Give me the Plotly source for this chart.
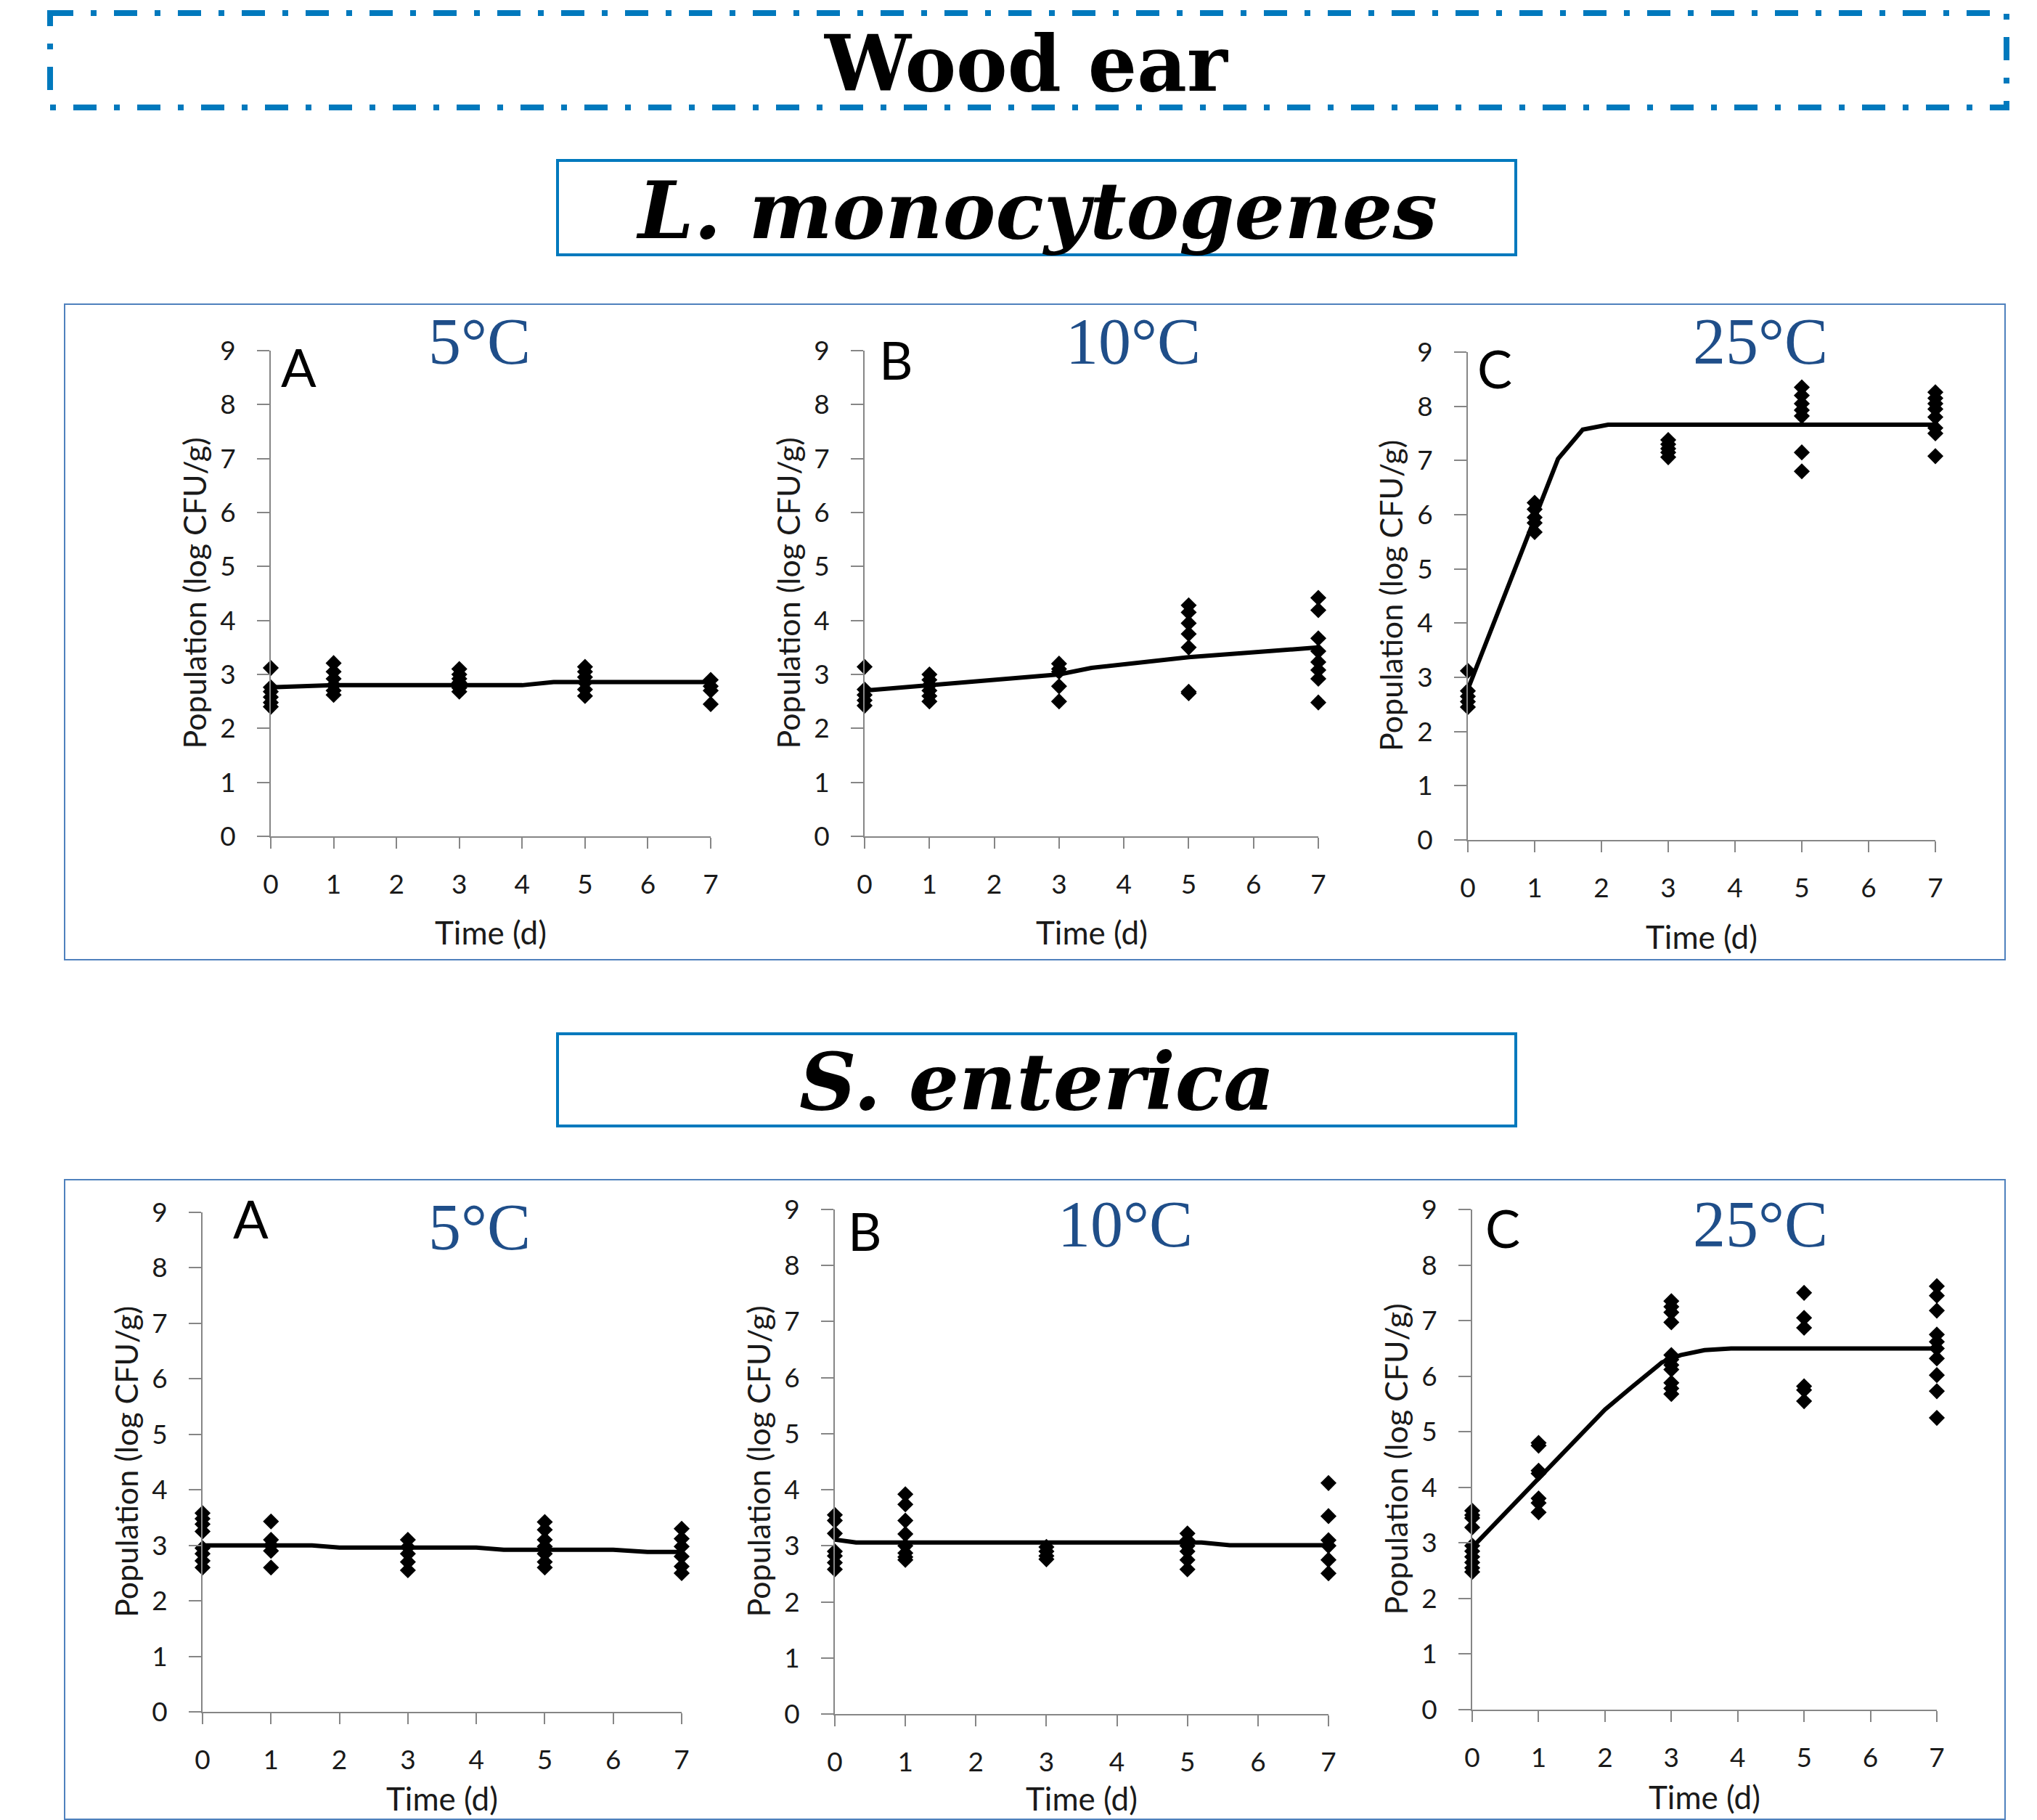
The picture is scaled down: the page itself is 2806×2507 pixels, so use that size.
import plotly.graph_objects as go

W, H = 2806, 2507

# ---------------- data ----------------
DAYS = [0, 1, 3, 5, 7]
X_TICKS = [0, 1, 2, 3, 4, 5, 6, 7]
Y_TICKS = [0, 1, 2, 3, 4, 5, 6, 7, 8, 9]
TEMPS = ["5°C", "10°C", "25°C"]
LETTERS = ["A", "B", "C"]

# L. monocytogenes observations (log CFU/g), one list per sampling day in DAYS
lm_5C_obs = [[3.12, 2.76, 2.68, 2.58, 2.48, 2.40],
             [3.21, 3.05, 2.92, 2.80, 2.70, 2.62],
             [3.10, 3.00, 2.92, 2.85, 2.75, 2.68],
             [3.14, 3.05, 2.95, 2.85, 2.72, 2.60],
             [2.90, 2.78, 2.70, 2.45]]
lm_10C_obs = [[3.14, 2.72, 2.62, 2.52, 2.42],
              [3.00, 2.90, 2.80, 2.70, 2.60, 2.50],
              [3.20, 3.10, 3.05, 2.78, 2.50],
              [4.28, 4.15, 3.95, 3.75, 3.50, 2.68, 2.65],
              [4.42, 4.19, 3.67, 3.43, 3.23, 3.08, 2.92, 2.48]]
lm_25C_obs = [[3.12, 2.75, 2.65, 2.55, 2.45],
              [6.22, 6.10, 5.95, 5.85, 5.68],
              [7.38, 7.30, 7.22, 7.15, 7.06],
              [8.35, 8.20, 8.05, 7.93, 7.82, 7.15, 6.80],
              [8.26, 8.15, 8.05, 7.95, 7.80, 7.60, 7.50, 7.08]]

# S. enterica observations
se_5C_obs = [[3.58, 3.48, 3.38, 3.25, 2.95, 2.85, 2.72, 2.60],
             [3.43, 3.10, 3.00, 2.90, 2.60],
             [3.10, 2.97, 2.85, 2.70, 2.55],
             [3.42, 3.28, 3.10, 2.98, 2.85, 2.70, 2.60],
             [3.30, 3.12, 2.98, 2.80, 2.62, 2.50]]
se_10C_obs = [[3.55, 3.45, 3.22, 2.90, 2.82, 2.70, 2.58],
              [3.92, 3.74, 3.45, 3.21, 3.00, 2.87, 2.80, 2.75],
              [2.98, 2.90, 2.82, 2.76],
              [3.22, 3.10, 3.00, 2.90, 2.75, 2.58],
              [4.12, 3.53, 3.10, 3.00, 2.75, 2.51]]
se_25C_obs = [[3.58, 3.50, 3.45, 3.28, 2.95, 2.85, 2.75, 2.65, 2.55, 2.48],
              [4.80, 4.75, 4.30, 4.25, 3.80, 3.72, 3.55],
              [7.35, 7.25, 7.15, 6.97, 6.38, 6.30, 6.20, 6.12, 5.88, 5.78, 5.68],
              [7.50, 7.05, 6.87, 5.82, 5.75, 5.55],
              [7.62, 7.45, 7.18, 6.75, 6.62, 6.50, 6.32, 6.02, 5.73, 5.25]]

# fitted model curves (time in days, log CFU/g)
lm_5C_fit_t = [0, 1, 4, 4.5, 7]
lm_5C_fit_y = [2.76, 2.80, 2.80, 2.86, 2.86]
lm_10C_fit_t = [0, 1, 3, 3.5, 5, 7]
lm_10C_fit_y = [2.70, 2.80, 3.00, 3.12, 3.32, 3.50]
lm_25C_fit_t = [0, 1.35, 1.72, 2.1, 7]
lm_25C_fit_y = [2.78, 7.03, 7.57, 7.66, 7.66]
se_5C_fit_t = [0, 1.6, 2.0, 4.0, 4.4, 6.0, 6.5, 7]
se_5C_fit_y = [3.00, 3.00, 2.96, 2.96, 2.92, 2.92, 2.88, 2.88]
se_10C_fit_t = [0, 0.3, 5.2, 5.6, 7]
se_10C_fit_y = [3.11, 3.06, 3.06, 3.01, 3.01]
se_25C_fit_t = [0, 1, 2, 2.4, 2.86, 3.14, 3.5, 3.9, 7]
se_25C_fit_y = [2.92, 4.15, 5.40, 5.80, 6.25, 6.38, 6.47, 6.50, 6.50]

# ---------------- layout geometry (pixels) ----------------
# x0, x7 : pixel x of day 0 / day 7 ; y0, y9 : pixel y of value 0 / 9
panels = [
    dict(obs=lm_5C_obs, ft=lm_5C_fit_t, fy=lm_5C_fit_y, x0=373, x7=979, y0=1152, y9=483,
         letter=(411, 505), temp=(660, 470), ttl_y=1284),
    dict(obs=lm_10C_obs, ft=lm_10C_fit_t, fy=lm_10C_fit_y, x0=1191, x7=1816, y0=1152, y9=483,
         letter=(1234, 495), temp=(1561, 470), ttl_y=1284),
    dict(obs=lm_25C_obs, ft=lm_25C_fit_t, fy=lm_25C_fit_y, x0=2022, x7=2666, y0=1157, y9=485,
         letter=(2059, 507), temp=(2425, 470), ttl_y=1290),
    dict(obs=se_5C_obs, ft=se_5C_fit_t, fy=se_5C_fit_y, x0=279, x7=939, y0=2358, y9=1670,
         letter=(345, 1678), temp=(660, 1690), ttl_y=2477),
    dict(obs=se_10C_obs, ft=se_10C_fit_t, fy=se_10C_fit_y, x0=1150, x7=1830, y0=2361, y9=1666,
         letter=(1191, 1695), temp=(1550, 1686), ttl_y=2477),
    dict(obs=se_25C_obs, ft=se_25C_fit_t, fy=se_25C_fit_y, x0=2028, x7=2668, y0=2355, y9=1666,
         letter=(2070, 1691), temp=(2425, 1686), ttl_y=2475),
]


def px(x):
    return x / W


def py(y):
    return 1 - y / H


SANS = "Lato"
SERIF_HDR = "DejaVu Serif"
SERIF_T = "Liberation Serif"
AXIS_COL = "#868686"
TEMP_COL = "#1F4E89"
BOX_COL = "#0079BD"
FRAME_COL = "#4F81BD"
TXT_COL = "#1a1a1a"

fig = go.Figure()
layout = dict(width=W, height=H, autosize=False,
              margin=dict(l=0, r=0, t=0, b=0, pad=0, autoexpand=False),
              paper_bgcolor="white", plot_bgcolor="rgba(0,0,0,0)",
              showlegend=False)
annotations = []
shapes = []

for i, p in enumerate(panels):
    k = "" if i == 0 else str(i + 1)
    xs, ys = [], []
    for d, vals in zip(DAYS, p["obs"]):
        xs += [d] * len(vals)
        ys += vals
    fig.add_trace(go.Scatter(x=p["ft"], y=p["fy"], mode="lines",
                             line=dict(color="black", width=6),
                             xaxis="x" + k, yaxis="y" + k, cliponaxis=False))
    fig.add_trace(go.Scatter(x=xs, y=ys, mode="markers",
                             marker=dict(symbol="diamond", size=17, color="black"),
                             xaxis="x" + k, yaxis="y" + k, cliponaxis=False))
    layout["xaxis" + k] = dict(domain=[px(p["x0"]), px(p["x7"])], range=[0, 7],
                               anchor="y" + k, tickvals=X_TICKS, automargin=False,
                               showline=True, linecolor=AXIS_COL, linewidth=2,
                               ticks="outside", ticklen=15, tickwidth=2, tickcolor=AXIS_COL,
                               showgrid=False, zeroline=False, ticklabelstandoff=18,
                               tickfont=dict(family=SANS, size=37, color=TXT_COL))
    layout["yaxis" + k] = dict(domain=[py(p["y0"]), py(p["y9"])], range=[0, 9],
                               anchor="x" + k, tickvals=Y_TICKS, automargin=False,
                               showline=True, linecolor=AXIS_COL, linewidth=2,
                               ticks="outside", ticklen=17, tickwidth=2, tickcolor=AXIS_COL,
                               showgrid=False, zeroline=False, ticklabelstandoff=22,
                               tickfont=dict(family=SANS, size=37, color=TXT_COL))
    # axis titles
    annotations.append(dict(text="Population (log CFU/g)", textangle=-90,
                            x=px(p["x0"] - 106), y=py((p["y0"] + p["y9"]) / 2),
                            xref="paper", yref="paper", showarrow=False,
                            xanchor="center", yanchor="middle",
                            font=dict(family=SANS, size=43, color=TXT_COL)))
    annotations.append(dict(text="Time (d)",
                            x=px((p["x0"] + p["x7"]) / 2), y=py(p["ttl_y"]),
                            xref="paper", yref="paper", showarrow=False,
                            xanchor="center", yanchor="middle",
                            font=dict(family=SANS, size=44, color=TXT_COL)))
    annotations.append(dict(text=LETTERS[i % 3],
                            x=px(p["letter"][0]), y=py(p["letter"][1]),
                            xref="paper", yref="paper", showarrow=False,
                            xanchor="center", yanchor="middle",
                            font=dict(family=SANS, size=72, color="black")))
    annotations.append(dict(text=TEMPS[i % 3],
                            x=px(p["temp"][0]), y=py(p["temp"][1]),
                            xref="paper", yref="paper", showarrow=False,
                            xanchor="center", yanchor="middle",
                            font=dict(family=SERIF_T, size=90, color=TEMP_COL)))

# headers
annotations.append(dict(text="Wood ear", x=px(1413), y=py(88), xref="paper", yref="paper",
                        showarrow=False, xanchor="center", yanchor="middle",
                        font=dict(family=SERIF_HDR, size=106, color="black", weight="bold")))
annotations.append(dict(text="L. monocytogenes", x=px(1428), y=py(290), xref="paper", yref="paper",
                        showarrow=False, xanchor="center", yanchor="middle",
                        font=dict(family=SERIF_HDR, size=109, color="black",
                                  weight="bold", style="italic")))
annotations.append(dict(text="S. enterica", x=px(1428), y=py(1490), xref="paper", yref="paper",
                        showarrow=False, xanchor="center", yanchor="middle",
                        font=dict(family=SERIF_HDR, size=109, color="black",
                                  weight="bold", style="italic")))

# boxes
shapes.append(dict(type="rect", xref="paper", yref="paper",
                   x0=px(69), x1=px(2764), y0=py(18), y1=py(148),
                   line=dict(color=BOX_COL, width=8, dash="32px,24px,8px,24px")))
shapes.append(dict(type="rect", xref="paper", yref="paper",
                   x0=px(768), x1=px(2088), y0=py(221), y1=py(351),
                   line=dict(color=BOX_COL, width=4)))
shapes.append(dict(type="rect", xref="paper", yref="paper",
                   x0=px(768), x1=px(2088), y0=py(1424), y1=py(1551),
                   line=dict(color=BOX_COL, width=4)))
shapes.append(dict(type="rect", xref="paper", yref="paper",
                   x0=px(89), x1=px(2762), y0=py(419), y1=py(1322),
                   line=dict(color=FRAME_COL, width=2)))
shapes.append(dict(type="rect", xref="paper", yref="paper",
                   x0=px(89), x1=px(2762), y0=py(1625), y1=py(2506),
                   line=dict(color=FRAME_COL, width=2)))

layout["annotations"] = annotations
layout["shapes"] = shapes
fig.update_layout(**layout)

PAGE_FIX = ("document.documentElement.style.margin='0';"
            "document.documentElement.style.overflow='hidden';"
            "document.body.style.margin='0';"
            "document.body.style.padding='0';"
            "document.body.style.overflow='hidden';")
fig.write_html("out.html", post_script=PAGE_FIX,
               config={"displayModeBar": False, "responsive": False})
